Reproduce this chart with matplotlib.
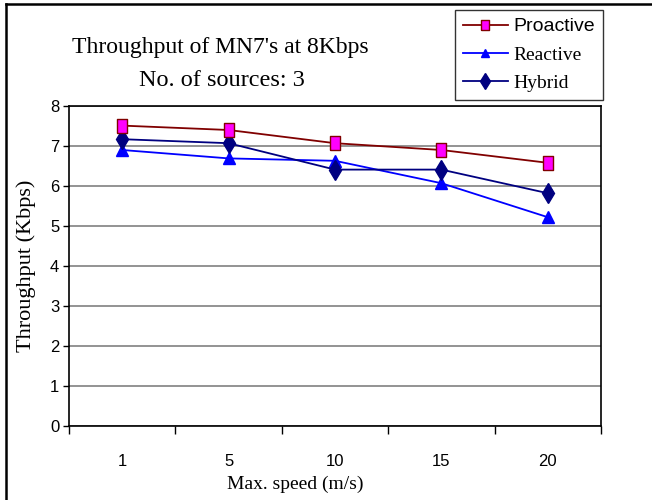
import numpy as np
import matplotlib
matplotlib.use('Agg')
from matplotlib import pyplot as plt
from matplotlib.lines import Line2D

speeds = ['1', '5', '10', '15', '20']
proactive = [7.51, 7.40, 7.07, 6.90, 6.58]
reactive = [6.90, 6.69, 6.63, 6.07, 5.22]
hybrid = [7.17, 7.07, 6.41, 6.41, 5.82]

W, H = 652, 500
fig = plt.figure(figsize=(W / 100, H / 100), dpi=100)
ax = fig.add_axes([69 / W, 1 - 426 / H, (601 - 69) / W, (426 - 106) / H])

x = np.arange(len(speeds))
rect = [(-0.36, -0.5), (0.36, -0.5), (0.36, 0.5), (-0.36, 0.5), (-0.36, -0.5)]
ax.plot(x, proactive, color='#800000', lw=1.3, marker=rect, ms=9.5,
        mfc='#ff00ff', mec='#800000', mew=1.0, label='Proactive', zorder=5)
ax.plot(x, reactive, color='#0000ff', lw=1.3, marker='^', ms=8,
        mfc='#0000ff', mec='#0000ff', label='Reactive', zorder=4)
ax.plot(x, hybrid, color='#000080', lw=1.3, marker='d', ms=10,
        mfc='#000080', mec='#000080', label='Hybrid', zorder=4)

ax.set_xlim(-0.5, len(speeds) - 0.5)
ax.set_ylim(0, 8)
ax.set_yticks(range(0, 9))
ax.yaxis.grid(True, color='#808080', lw=1.2)
ax.set_axisbelow(True)
for s in ax.spines.values():
    s.set_color('black')
    s.set_linewidth(1.2)

ax.set_xticks(np.arange(-0.5, len(speeds)), minor=False)
ax.set_xticklabels([])
ax.set_xticks(x, minor=True)
ax.set_xticklabels(speeds, minor=True, fontsize=12, family='Liberation Sans')
ax.tick_params(axis='x', which='major', direction='out', length=6, width=1, color='black')
ax.tick_params(axis='x', which='minor', length=0, pad=20)
ax.tick_params(axis='y', direction='out', length=4, width=1, pad=3, labelsize=12)
for lab in ax.get_yticklabels():
    lab.set_family('Liberation Sans')

serif = 'Liberation Serif'
fig.text(220 / W, 1 - 48 / H, "Throughput of MN7's at 8Kbps", ha='center', va='center',
         family=serif, fontsize=17)
fig.text(222 / W, 1 - 81 / H, 'No. of sources: 3', ha='center', va='center',
         family=serif, fontsize=17.5)
fig.text(295 / W, 1 - 484 / H, 'Max. speed (m/s)', ha='center', va='center',
         family=serif, fontsize=14)
fig.text(26 / W, 1 - 266 / H, 'Throughput (Kbps)', ha='center', va='center',
         rotation=90, family=serif, fontsize=16)

leg = fig.legend(loc='upper left', bbox_to_anchor=(455 / W, 1 - 10 / H),
                 frameon=True, fancybox=False, shadow=False, fontsize=14,
                 handlelength=2.3, handletextpad=0.3, labelspacing=0.55,
                 borderpad=0.4, borderaxespad=0, markerscale=0.8)
leg.get_frame().set_edgecolor('black')
leg.get_frame().set_linewidth(1.0)
texts = leg.get_texts()
texts[0].set_family('Liberation Sans')
texts[1].set_family(serif)
texts[2].set_family(serif)

# outer border (left and top only visible)
fig.add_artist(Line2D([6 / W, 6 / W], [0, 1 - 4 / H], color='black', lw=1.8,
                      transform=fig.transFigure))
fig.add_artist(Line2D([6 / W, 1], [1 - 4 / H, 1 - 4 / H], color='black', lw=1.8,
                      transform=fig.transFigure))

fig.savefig('out.png', dpi=100)
